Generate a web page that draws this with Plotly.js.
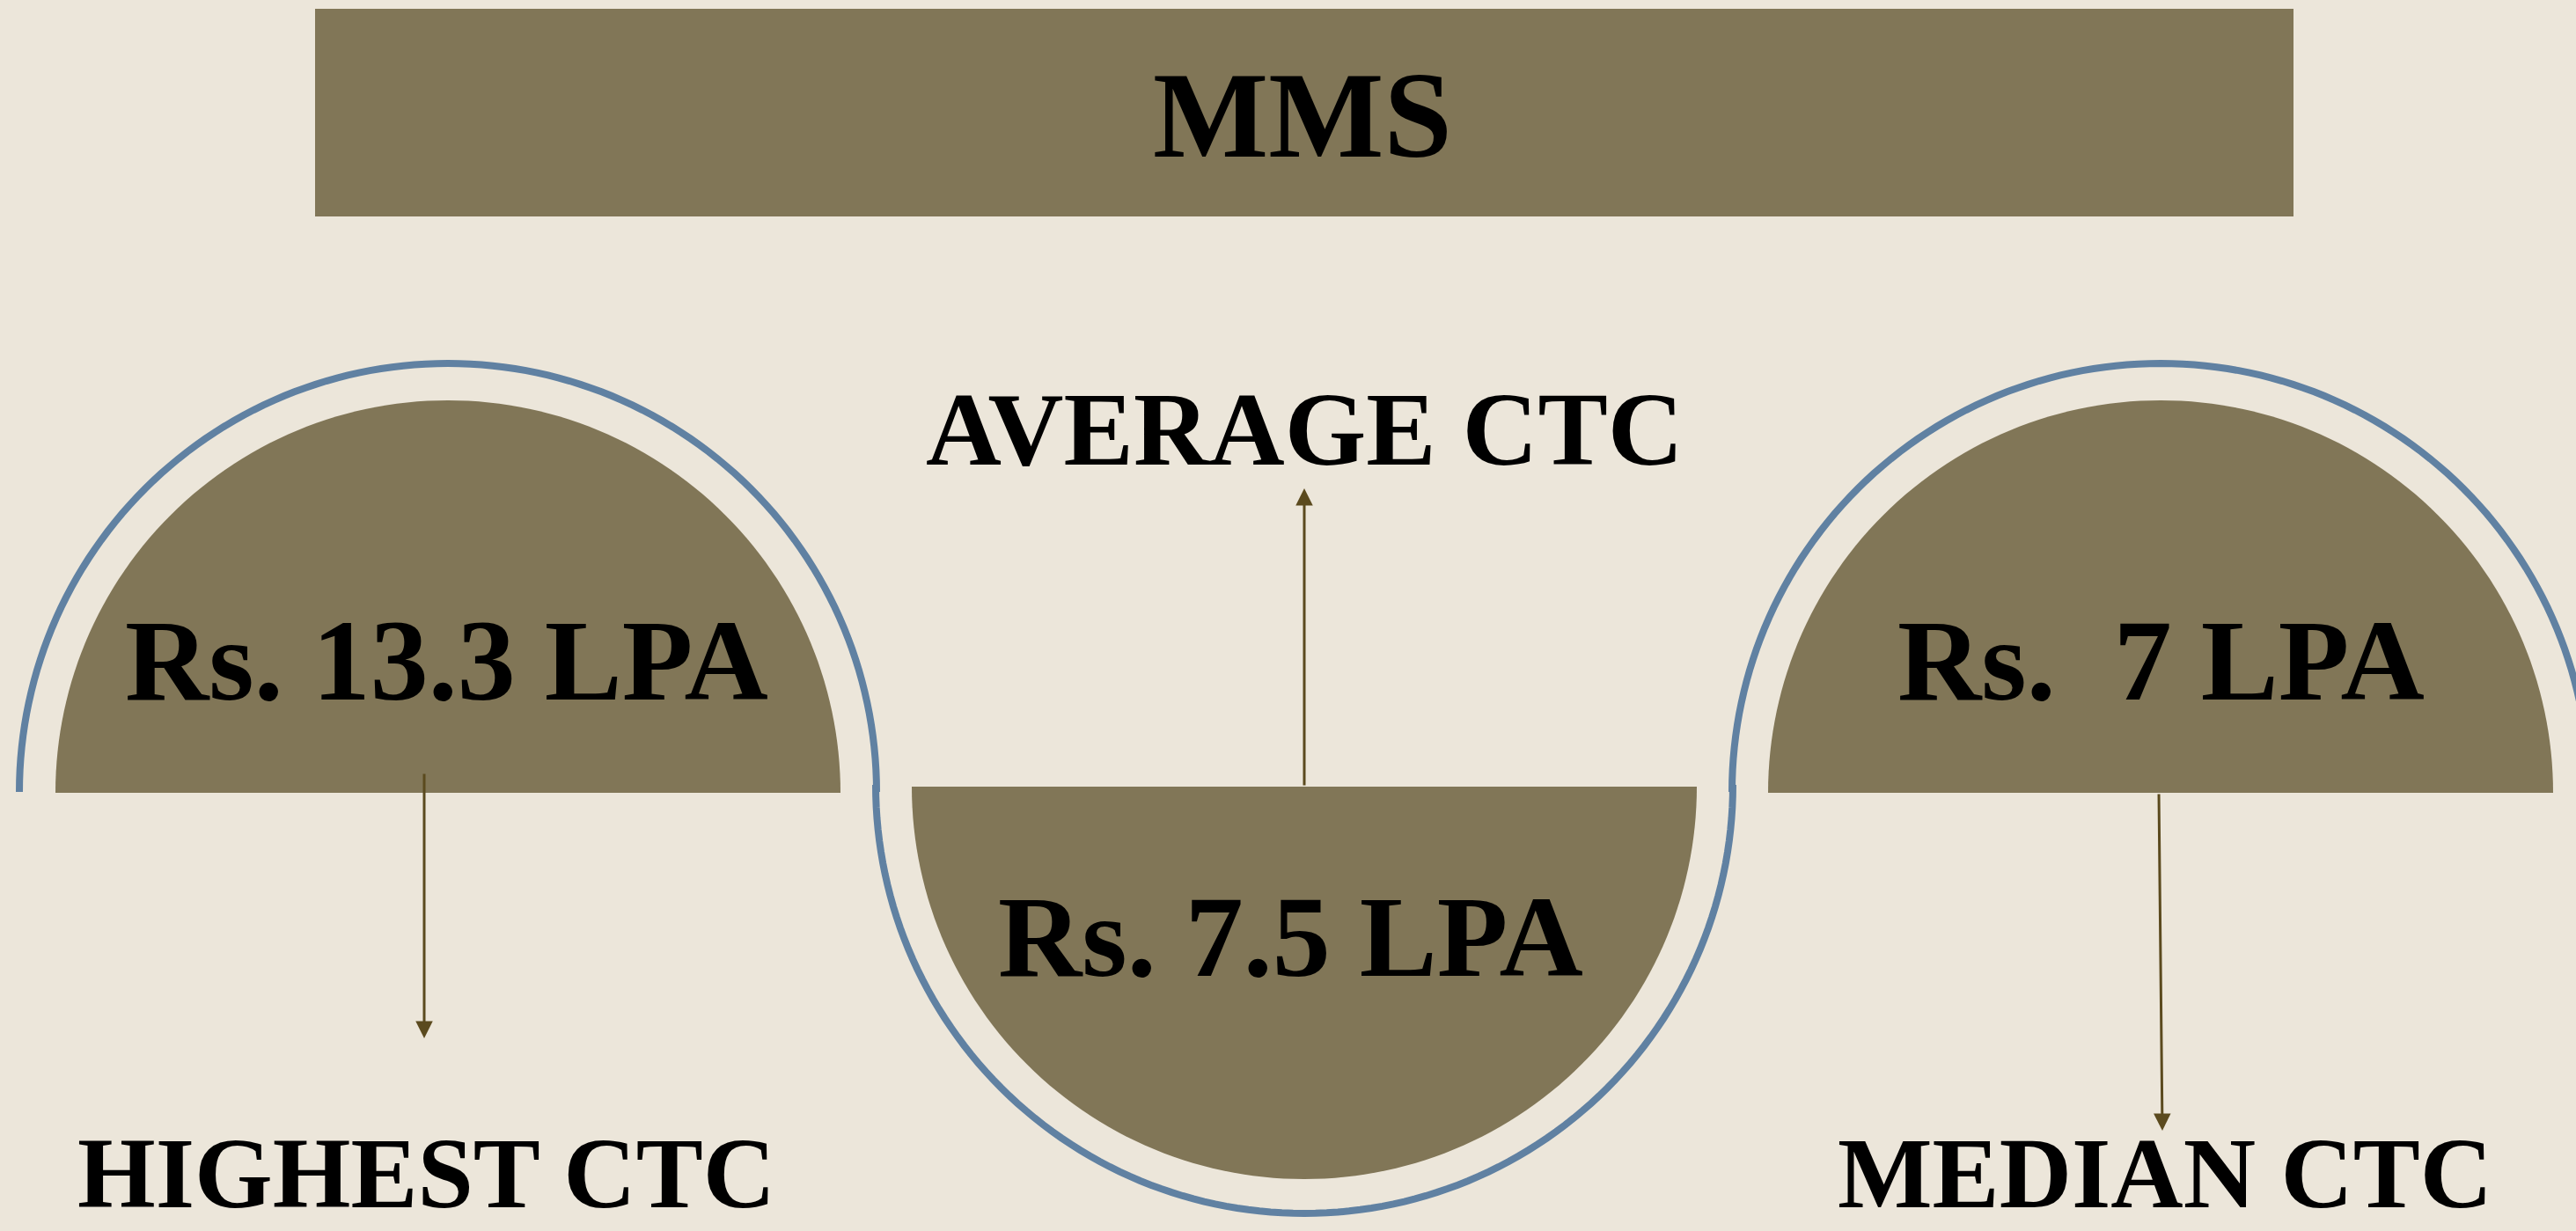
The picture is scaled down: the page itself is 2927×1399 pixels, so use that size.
<!DOCTYPE html>
<html>
<head>
<meta charset="utf-8">
<script src="https://cdn.plot.ly/plotly-3.0.1.min.js"></script>
<style>html,body{margin:0;padding:0;background:#ECE6DA;overflow:hidden}#chart{width:2927px;height:1399px}</style>
</head>
<body>
<div id="chart"></div>
<script>
// ---- data ----
var chartTitle = "MMS";
var categories = ["HIGHEST CTC", "AVERAGE CTC", "MEDIAN CTC"];
var values = [13.3, 7.5, 7];
var valuePrefix = ["Rs. ", "Rs. ", "Rs.\u00a0 "];
var unit = " LPA";

// ---- layout geometry (pixels) ----
var W = 2927, H = 1399;
var BG = "#ECE6DA", FILL = "#817657", BLUE = "#6081A2", ARROW = "#5B4A1E";
var FONT = "Liberation Serif, Times New Roman, serif";

// circle centres: left (up), middle (down), right (up)
var cx = [509, 1482, 2455];
var baseY = [901, 894, 901];
var dir = [-1, 1, -1];           // -1 = dome up, 1 = dome down
var rFill = 446, rRing = 487;
var ringBase = [900, 892, 900];

function arcPath(cxv, cyv, r, d, closed) {
  var n = 120, s = "";
  for (var i = 0; i <= n; i++) {
    var a = Math.PI * i / n;
    var x = cxv - r * Math.cos(a);
    var y = cyv + d * r * Math.sin(a);
    s += (i === 0 ? "M" : "L") + x.toFixed(2) + "," + y.toFixed(2);
  }
  return closed ? s + "Z" : s;
}

var shapes = [];
// title bar
shapes.push({type: "rect", xref: "x", yref: "y", x0: 358, x1: 2606, y0: 10, y1: 246,
  fillcolor: FILL, line: {width: 0}, layer: "below"});
for (var i = 0; i < 3; i++) {
  shapes.push({type: "path", xref: "x", yref: "y", path: arcPath(cx[i], baseY[i], rFill, dir[i], true),
    fillcolor: FILL, line: {width: 0}, layer: "below"});
  shapes.push({type: "path", xref: "x", yref: "y", path: arcPath(cx[i], ringBase[i], rRing, dir[i], false),
    fillcolor: "rgba(0,0,0,0)", line: {color: BLUE, width: 8}, layer: "below"});
}

var annotations = [];
// title text
annotations.push({x: 1480, y: 131, xref: "x", yref: "y", text: "<b>" + chartTitle + "</b>",
  showarrow: false, xanchor: "center", yanchor: "middle",
  font: {family: FONT, size: 139, color: "#000"}});

// value labels
var valX = [507, 1466, 2455], valY = [750, 1064, 750];
for (var i = 0; i < 3; i++) {
  annotations.push({x: valX[i], y: valY[i], xref: "x", yref: "y",
    text: "<b>" + valuePrefix[i] + values[i] + unit + "</b>",
    showarrow: false, xanchor: "center", yanchor: "middle",
    font: {family: FONT, size: 132, color: "#000"}});
}
// category labels (top one centred, bottom ones sit on the bottom edge)
annotations.push({x: 1482, y: 488, xref: "x", yref: "y",
  text: "<b>" + categories[1] + "</b>", showarrow: false, xanchor: "center", yanchor: "middle",
  font: {family: FONT, size: 119, color: "#000"}});
var botX = [484, 2460], botIdx = [0, 2];
for (var j = 0; j < 2; j++) {
  annotations.push({x: botX[j], y: 1399, xref: "x", yref: "y",
    text: "<b>" + categories[botIdx[j]] + "</b>", showarrow: false, xanchor: "center", yanchor: "bottom",
    font: {family: FONT, size: 114, color: "#000"}});
}
// arrows (tip, tail)
var arrows = [
  {x: 482, y: 1180, ax: 482, ay: 878},
  {x: 1482, y: 555, ax: 1482, ay: 894},
  {x: 2457, y: 1285, ax: 2453, ay: 901}
];
arrows.forEach(function (a) {
  annotations.push({x: a.x, y: a.y, ax: a.ax, ay: a.ay, xref: "x", yref: "y", axref: "x", ayref: "y",
    text: "", showarrow: true, arrowhead: 2, arrowsize: 1.3, arrowwidth: 3, arrowcolor: ARROW});
});

var layout = {
  width: W, height: H,
  margin: {l: 0, r: 0, t: 0, b: 0, pad: 0},
  paper_bgcolor: BG, plot_bgcolor: BG,
  xaxis: {range: [0, W], visible: false, fixedrange: true},
  yaxis: {range: [H, 0], visible: false, fixedrange: true},
  shapes: shapes, annotations: annotations, showlegend: false
};

Plotly.newPlot("chart", [{x: [], y: [], type: "scatter", hoverinfo: "skip"}], layout,
  {displayModeBar: false, staticPlot: true});
</script>
</body>
</html>
